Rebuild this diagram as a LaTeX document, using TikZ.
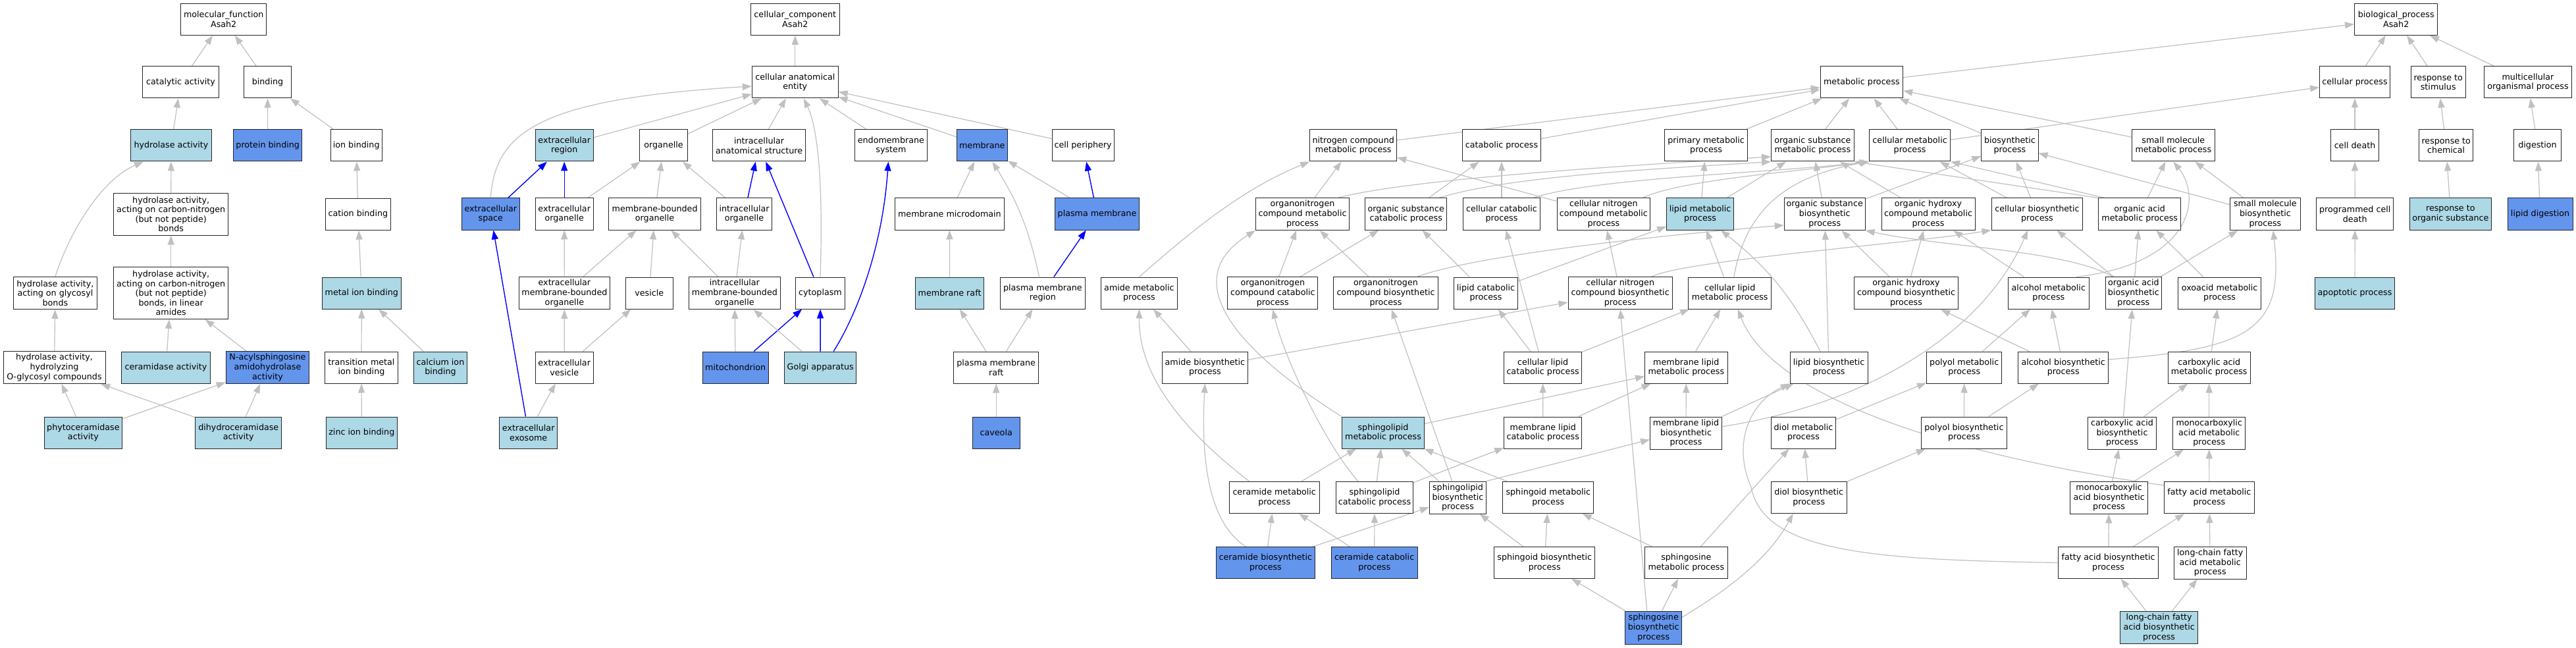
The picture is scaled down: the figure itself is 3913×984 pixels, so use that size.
\documentclass[tikz,border=0pt]{standalone}
\usepackage{fontspec}
\usetikzlibrary{arrows.meta,backgrounds}
\newfontfamily\gvfont{DejaVu Sans}
\definecolor{lbc}{RGB}{173,216,230}
\definecolor{cfc}{RGB}{100,149,237}
\definecolor{egc}{RGB}{192,192,192}
\begin{document}
\begin{tikzpicture}[x=1pt,y=-1pt,
 gnode/.style={draw=black!85,line width=1pt,fill=white,inner sep=0pt,align=center,font={\gvfont\fontsize{12.7pt}{14.6pt}\selectfont},minimum height=48pt},
 lbf/.style={gnode,fill=lbc},
 cff/.style={gnode,fill=cfc},
 ge/.style={draw=egc,line width=1.2pt,-{Triangle[length=14pt,width=10pt]}},
 be/.style={draw=blue,line width=1.4pt,-{Triangle[length=14pt,width=10pt]}}]
\useasboundingbox (0,0) rectangle (3913,984);
% ---------------- molecular function
\node[gnode,minimum width=130.5pt] (mf) at (339.7,29.3) {molecular\_function\\Asah2};
\node[gnode,minimum width=115.3pt] (cat) at (274.5,125) {catalytic activity};
\node[gnode,minimum width=72.6pt] (bind) at (406.5,125) {binding};
\node[lbf,minimum width=122.7pt] (hyd) at (260,221) {hydrolase activity};
\node[cff,minimum width=104.4pt] (prot) at (406.7,221) {protein binding};
\node[gnode,minimum width=78.3pt] (ion) at (541.2,221) {ion binding};
\node[gnode,minimum width=173.7pt,minimum height=64pt] (hcn) at (259.7,325.2) {hydrolase activity,\\acting on carbon-nitrogen\\(but not peptide)\\bonds};
\node[gnode,minimum width=98.7pt] (cation) at (543.9,325.2) {cation binding};
\node[gnode,minimum width=126.5pt,minimum height=49pt] (hgly) at (83.9,445) {hydrolase activity,\\acting on glycosyl\\bonds};
\node[gnode,minimum width=173.7pt,minimum height=79pt] (hlin) at (259.7,444.9) {hydrolase activity,\\acting on carbon-nitrogen\\(but not peptide)\\bonds, in linear\\amides};
\node[lbf,minimum width=120.2pt] (metal) at (549.3,445) {metal ion binding};
\node[gnode,minimum width=155pt,minimum height=49pt] (hoglyc) at (82.5,558) {hydrolase activity,\\hydrolyzing\\O-glycosyl compounds};
\node[lbf,minimum width=134.3pt] (ceramidase) at (252,558) {ceramidase activity};
\node[cff,minimum width=126.4pt,minimum height=49pt] (nacyl) at (406.5,558) {N-acylsphingosine\\amidohydrolase\\activity};
\node[gnode,minimum width=110.3pt] (trans) at (549,558) {transition metal\\ion binding};
\node[lbf,minimum width=80.5pt] (calcium) at (669,558) {calcium ion\\binding};
\node[lbf,minimum width=117.7pt] (phyto) at (126.4,657) {phytoceramidase\\activity};
\node[lbf,minimum width=131pt] (dihydro) at (362.3,657) {dihydroceramidase\\activity};
\node[lbf,minimum width=107.8pt] (zinc) at (549.3,657) {zinc ion binding};
% ---------------- cellular component
\node[gnode,minimum width=134.4pt] (cc) at (1207.8,29.3) {cellular\_component\\Asah2};
\node[gnode,minimum width=130.8pt] (cae) at (1207.8,125) {cellular anatomical\\entity};
\node[lbf,minimum width=88.4pt] (exreg) at (857.2,221) {extracellular\\region};
\node[gnode,minimum width=72.3pt] (organelle) at (1008,221) {organelle};
\node[gnode,minimum width=141pt] (ias) at (1153.1,221) {intracellular\\anatomical structure};
\node[gnode,minimum width=109.3pt] (endo) at (1353.4,221) {endomembrane\\system};
\node[cff,minimum width=77.3pt] (membrane) at (1491.8,221) {membrane};
\node[gnode,minimum width=93.8pt] (cellper) at (1645.1,221) {cell periphery};
\node[cff,minimum width=88pt] (exspace) at (745.3,325) {extracellular\\space};
\node[gnode,minimum width=88.4pt] (exorg) at (857.2,325) {extracellular\\organelle};
\node[gnode,minimum width=139.3pt] (mbo) at (994.6,325) {membrane-bounded\\organelle};
\node[gnode,minimum width=83.5pt] (iorg) at (1130.6,325) {intracellular\\organelle};
\node[gnode,minimum width=166pt] (mmd) at (1442.4,325) {membrane microdomain};
\node[cff,minimum width=128.6pt] (pm) at (1666.5,325) {plasma membrane};
\node[gnode,minimum width=138.8pt,minimum height=49pt] (exmbo) at (857.4,445) {extracellular\\membrane-bounded\\organelle};
\node[gnode,minimum width=71.9pt] (vesicle) at (986.3,445) {vesicle};
\node[gnode,minimum width=138.8pt,minimum height=49pt] (imbo) at (1115.9,445) {intracellular\\membrane-bounded\\organelle};
\node[gnode,minimum width=75pt] (cyto) at (1246,445) {cytoplasm};
\node[lbf,minimum width=104pt] (mraft) at (1442.6,445) {membrane raft};
\node[gnode,minimum width=128.6pt] (pmr) at (1583.9,445) {plasma membrane\\region};
\node[gnode,minimum width=88.4pt] (exves) at (857.2,558) {extracellular\\vesicle};
\node[cff,minimum width=99.6pt] (mito) at (1117.2,558) {mitochondrion};
\node[lbf,minimum width=109.4pt] (golgi) at (1246.2,558) {Golgi apparatus};
\node[gnode,minimum width=129pt] (pmraft) at (1513.2,558) {plasma membrane\\raft};
\node[lbf,minimum width=88.4pt] (exo) at (802.7,657) {extracellular\\exosome};
\node[cff,minimum width=71.9pt] (caveola) at (1513.2,657) {caveola};
% ---------------- biological process
\node[gnode,minimum width=126.5pt] (bp) at (3639.7,29.3) {biological\_process\\Asah2};
\node[gnode,minimum width=125.4pt] (metab) at (2827.9,125) {metabolic process};
\node[gnode,minimum width=107pt] (cellproc) at (3577,125) {cellular process};
\node[gnode,minimum width=82.8pt] (respstim) at (3703.7,125) {response to\\stimulus};
\node[gnode,minimum width=133.6pt] (multi) at (3839.9,125) {multicellular\\organismal process};
\node[gnode,minimum width=131.8pt] (ncm) at (2055.7,221) {nitrogen compound\\metabolic process};
\node[gnode,minimum width=118.1pt] (catab) at (2281,221) {catabolic process};
\node[gnode,minimum width=126.6pt] (primary) at (2591.6,221) {primary metabolic\\process};
\node[gnode,minimum width=125.4pt] (osm) at (2753.3,221) {organic substance\\metabolic process};
\node[gnode,minimum width=122.8pt] (cellmet) at (2901.1,221) {cellular metabolic\\process};
\node[gnode,minimum width=86.2pt] (biosyn) at (3052.9,221) {biosynthetic\\process};
\node[gnode,minimum width=125.8pt] (smm) at (3301.3,221) {small molecule\\metabolic process};
\node[gnode,minimum width=72.3pt] (celldeath) at (3577,221) {cell death};
\node[gnode,minimum width=82.5pt] (respchem) at (3715.7,221) {response to\\chemical};
\node[gnode,minimum width=72.3pt] (digestion) at (3854.5,221) {digestion};
\node[gnode,minimum width=142pt,minimum height=49pt] (onm) at (1978.5,325) {organonitrogen\\compound metabolic\\process};
\node[gnode,minimum width=123.5pt] (osc) at (2135.7,325) {organic substance\\catabolic process};
\node[gnode,minimum width=117.3pt] (cellcat) at (2281,325) {cellular catabolic\\process};
\node[gnode,minimum width=141.8pt,minimum height=49pt] (cncm) at (2435.9,325) {cellular nitrogen\\compound metabolic\\process};
\node[lbf,minimum width=101.8pt] (lipidmet) at (2582.6,325) {lipid metabolic\\process};
\node[gnode,minimum width=122.8pt,minimum height=49pt] (osb) at (2771.7,325) {organic substance\\biosynthetic\\process};
\node[gnode,minimum width=142pt,minimum height=49pt] (ohcm) at (2929,325) {organic hydroxy\\compound metabolic\\process};
\node[gnode,minimum width=138.8pt] (cellbio) at (3094.4,325) {cellular biosynthetic\\process};
\node[gnode,minimum width=125.5pt] (oam) at (3250.2,325) {organic acid\\metabolic process};
\node[gnode,minimum width=107pt,minimum height=49pt] (smb) at (3440.9,325) {small molecule\\biosynthetic\\process};
\node[gnode,minimum width=117.5pt] (pcd) at (3577.2,325) {programmed cell\\death};
\node[lbf,minimum width=123.4pt] (respos) at (3722.3,325) {response to\\organic substance};
\node[cff,minimum width=99pt] (lipdig) at (3858.5,325) {lipid digestion};
\node[gnode,minimum width=115.2pt] (amidem) at (1730.4,445) {amide metabolic\\process};
\node[gnode,minimum width=137pt,minimum height=49pt] (onc) at (1933.3,445) {organonitrogen\\compound catabolic\\process};
\node[gnode,minimum width=158.3pt,minimum height=49pt] (onb) at (2105,445) {organonitrogen\\compound biosynthetic\\process};
\node[gnode,minimum width=97.4pt] (lipcat) at (2257,445) {lipid catabolic\\process};
\node[gnode,minimum width=158.4pt,minimum height=49pt] (cncb) at (2461.2,445) {cellular nitrogen\\compound biosynthetic\\process};
\node[gnode,minimum width=125.8pt] (clm) at (2627.7,445) {cellular lipid\\metabolic process};
\node[gnode,minimum width=158pt,minimum height=49pt] (ohcb) at (2895.5,445) {organic hydroxy\\compound biosynthetic\\process};
\node[gnode,minimum width=122.8pt] (alcm) at (3111.8,445) {alcohol metabolic\\process};
\node[gnode,minimum width=85.3pt,minimum height=49pt] (oab) at (3240.8,445) {organic acid\\biosynthetic\\process};
\node[gnode,minimum width=126.4pt] (oxo) at (3371.6,445) {oxoacid metabolic\\process};
\node[lbf,minimum width=120.5pt] (apop) at (3577,445) {apoptotic process};
\node[gnode,minimum width=130.3pt] (amideb) at (1830.4,558) {amide biosynthetic\\process};
\node[gnode,minimum width=118pt] (clc) at (2343.6,558) {cellular lipid\\catabolic process};
\node[gnode,minimum width=125.5pt] (mlm) at (2561.3,558) {membrane lipid\\metabolic process};
\node[gnode,minimum width=117.8pt] (lipbio) at (2778.1,558) {lipid biosynthetic\\process};
\node[gnode,minimum width=114.3pt] (polyolm) at (2983.7,558) {polyol metabolic\\process};
\node[gnode,minimum width=136.8pt] (alcb) at (3134.2,558) {alcohol biosynthetic\\process};
\node[gnode,minimum width=125.2pt] (cam) at (3355.7,558) {carboxylic acid\\metabolic process};
\node[lbf,minimum width=125.5pt] (slm) at (2101,657) {sphingolipid\\metabolic process};
\node[gnode,minimum width=118.3pt] (mlc) at (2343.8,657) {membrane lipid\\catabolic process};
\node[gnode,minimum width=108.7pt,minimum height=49pt] (mlb) at (2561,657.5) {membrane lipid\\biosynthetic\\process};
\node[gnode,minimum width=98.5pt] (diolm) at (2739.5,657) {diol metabolic\\process};
\node[gnode,minimum width=130.1pt] (polyolb) at (2983.4,657) {polyol biosynthetic\\process};
\node[gnode,minimum width=104.1pt,minimum height=49pt] (cab) at (3223.5,657.5) {carboxylic acid\\biosynthetic\\process};
\node[gnode,minimum width=110pt,minimum height=49pt] (mcam) at (3355.7,657.5) {monocarboxylic\\acid metabolic\\process};
\node[gnode,minimum width=136.7pt] (cerm) at (1935.7,755.5) {ceramide metabolic\\process};
\node[gnode,minimum width=117.9pt] (slc) at (2088,755.5) {sphingolipid\\catabolic process};
\node[gnode,minimum width=86.2pt,minimum height=49pt] (slb) at (2214.5,755.5) {sphingolipid\\biosynthetic\\process};
\node[gnode,minimum width=138.3pt] (sdm) at (2351.8,755.5) {sphingoid metabolic\\process};
\node[gnode,minimum width=114.8pt] (diolb) at (2747.7,755.5) {diol biosynthetic\\process};
\node[gnode,minimum width=117.3pt,minimum height=49pt] (mcab) at (3203.6,755.5) {monocarboxylic\\acid biosynthetic\\process};
\node[gnode,minimum width=136.6pt] (fam) at (3355.9,755.5) {fatty acid metabolic\\process};
\node[cff,minimum width=150pt] (cerb) at (1922.4,854.5) {ceramide biosynthetic\\process};
\node[cff,minimum width=130.6pt] (cerc) at (2087.7,854.5) {ceramide catabolic\\process};
\node[gnode,minimum width=152.5pt] (sdb) at (2346.2,854.5) {sphingoid biosynthetic\\process};
\node[gnode,minimum width=125.5pt] (sphm) at (2561.3,854.5) {sphingosine\\metabolic process};
\node[gnode,minimum width=152pt] (fab) at (3202.6,854.5) {fatty acid biosynthetic\\process};
\node[gnode,minimum width=109.6pt,minimum height=49pt] (lcfam) at (3357.2,854.5) {long-chain fatty\\acid metabolic\\process};
\node[cff,minimum width=85.7pt,minimum height=50pt] (sphb) at (2511.7,953) {sphingosine\\biosynthetic\\process};
\node[lbf,minimum width=117.5pt,minimum height=49pt] (lcfab) at (3279.6,953) {long-chain fatty\\acid biosynthetic\\process};
% ---------------- edges
\begin{scope}[on background layer]
\fill[white] (0,0) rectangle (3913,984);
% MF
\draw[ge] (cat) -- (mf);
\draw[ge] (bind) -- (mf);
\draw[ge] (hyd) -- (cat);
\draw[ge] (prot) -- (bind);
\draw[ge] (ion) -- (bind);
\draw[ge] (hcn) -- (hyd);
\draw[ge] (hgly.north) .. controls (110,340) and (160,270) .. ([xshift=-42pt]hyd.south);
\draw[ge] (hlin) -- (hcn);
\draw[ge] (cation) -- (ion);
\draw[ge] (metal) -- (cation);
\draw[ge] (hoglyc) -- (hgly);
\draw[ge] (ceramidase) -- (hlin);
\draw[ge] (nacyl) -- (hlin);
\draw[ge] (trans) -- (metal);
\draw[ge] (calcium) -- (metal);
\draw[ge] (phyto) -- (hoglyc);
\draw[ge] (phyto) -- (nacyl);
\draw[ge] (dihydro) -- (hoglyc);
\draw[ge] (dihydro) -- (nacyl);
\draw[ge] (zinc) -- (trans);
% CC
\draw[ge] (cae) -- (cc);
\draw[ge] (exspace.north) .. controls (752,200) and (820,150) .. ([yshift=-6pt]cae.west);
\draw[ge] (exreg) -- (cae);
\draw[ge] (organelle) -- (cae);
\draw[ge] (ias) -- (cae);
\draw[ge] (cyto.north) .. controls (1250,300) and (1245,200) .. ([xshift=13pt]cae.south);
\draw[ge] (endo) -- (cae);
\draw[ge] (membrane) -- (cae);
\draw[ge] (cellper) -- (cae);
\draw[be] (exspace) -- (exreg);
\draw[be] (exorg) -- (exreg);
\draw[ge] (exorg) -- (organelle);
\draw[ge] (mbo) -- (organelle);
\draw[ge] (iorg) -- (organelle);
\draw[be] (iorg) -- (ias);
\draw[be] (cyto) -- (ias);
\draw[ge] (exmbo) -- (exorg);
\draw[ge] (exmbo) -- (mbo);
\draw[ge] (vesicle) -- (mbo);
\draw[ge] (imbo) -- (mbo);
\draw[ge] (imbo) -- (iorg);
\draw[ge] (exves) -- (exmbo);
\draw[ge] (exves) -- (vesicle);
\draw[ge] (mito) -- (imbo);
\draw[be] (mito) -- (cyto);
\draw[ge] (golgi) -- (imbo);
\draw[be] (golgi) -- (cyto);
\draw[be] ([xshift=20pt]golgi.north) .. controls (1300,480) and (1340,380) .. ([xshift=-4pt]endo.south);
\draw[be] (exo) -- (exspace);
\draw[ge] (exo) -- (exves);
\draw[ge] (mmd) -- (membrane);
\draw[ge] (pm) -- (membrane);
\draw[be] (pm) -- (cellper);
\draw[ge] (pmr) to[bend right=10] (membrane);
\draw[be] (pmr) -- (pm);
\draw[ge] (mraft) -- (mmd);
\draw[ge] (pmraft) -- (mraft);
\draw[ge] (pmraft) -- (pmr);
\draw[ge] (caveola) -- (pmraft);
% BP top
\draw[ge] (metab) -- (bp);
\draw[ge] (cellproc) -- (bp);
\draw[ge] (respstim) -- (bp);
\draw[ge] (multi) -- (bp);
\draw[ge] (ncm) -- (metab);
\draw[ge] (catab) -- (metab);
\draw[ge] (primary) -- (metab);
\draw[ge] (osm) -- (metab);
\draw[ge] (cellmet) -- (metab);
\draw[ge] (biosyn) -- (metab);
\draw[ge] (smm) -- (metab);
\draw[ge] (cellmet) -- (cellproc);
\draw[ge] (celldeath) -- (cellproc);
\draw[ge] (respchem) -- (respstim);
\draw[ge] (digestion) -- (multi);
\draw[ge] (pcd) -- (celldeath);
\draw[ge] (respos) -- (respchem);
\draw[ge] (lipdig) -- (digestion);
\draw[ge] (apop) -- (pcd);
% rank 3
\draw[ge] (onm) -- (ncm);
\draw[ge] ([xshift=55pt]onm.north) .. controls (2150,270) and (2500,250) .. (osm.195);
\draw[ge] (amidem.north) .. controls (1800,360) and (1880,290) .. (ncm.south west);
\draw[ge] (cncm) -- (ncm);
\draw[ge] (osc) -- (catab);
\draw[ge] ([xshift=50pt]osc.north) .. controls (2300,265) and (2550,255) .. (osm.south west);
\draw[ge] (cellcat) -- (catab);
\draw[ge] ([xshift=48pt]cellcat.north) .. controls (2420,270) and (2700,262) .. (cellmet.south west);
\draw[ge] ([xshift=60pt]cncm.north) .. controls (2560,272) and (2720,262) .. (cellmet.south west);
\draw[ge] (lipidmet) -- (primary);
\draw[ge] (lipidmet) -- (osm);
\draw[ge] (osb) -- (osm);
\draw[ge] (osb) -- (biosyn);
\draw[ge] (ohcm) -- (osm);
\draw[ge] (cellbio) -- (cellmet);
\draw[ge] (cellbio) -- (biosyn);
\draw[ge] (oam) -- (smm);
\draw[ge] (oam.north west) -- (osm.south east);
\draw[ge] ([xshift=10pt]oam.north west) -- (cellmet.south east);
\draw[ge] (smb) -- (smm);
\draw[ge] (smb) -- (biosyn);
% rank 4
\draw[ge] (onc) -- (onm);
\draw[ge] (onc) -- (osc);
\draw[ge] (onb) -- (onm);
\draw[ge] ([xshift=48pt]onb.north) .. controls (2250,385) and (2550,355) .. ([yshift=-17pt]osb.west);
\draw[ge] (lipcat) -- (osc);
\draw[ge] (lipcat) -- (lipidmet);
\draw[ge] (cncb) -- (cncm);
\draw[ge] ([xshift=48pt]cncb.north) .. controls (2560,395) and (2900,370) .. (cellbio.south west);
\draw[ge] (clm) -- (lipidmet);
\draw[ge] ([xshift=6pt]clm.north) .. controls (2650,330) and (2700,270) .. (cellmet.south west);
\draw[ge] (ohcb) -- (osb);
\draw[ge] (ohcb) -- (ohcm);
\draw[ge] (alcm) -- (ohcm);
\draw[ge] ([xshift=42pt]alcm.north) .. controls (3330,400) and (3345,300) .. (smm.south);
\draw[ge] (oab) -- (oam);
\draw[ge] (oab) -- (smb);
\draw[ge] ([xshift=-32pt]oab.north) .. controls (3140,380) and (2950,375) .. (osb.south east);
\draw[ge] (oab) -- (cellbio);
\draw[ge] (oxo) -- (oam);
% rank 5
\draw[ge] (amideb) -- (amidem);
\draw[ge] (amideb) -- (cncb);
\draw[ge] (clc) -- (lipcat);
\draw[ge] (clc) -- (cellcat);
\draw[ge] (clc) -- (clm);
\draw[ge] (mlm) -- (clm);
\draw[ge] (lipbio) -- (osb);
\draw[ge] (lipbio) to[bend right=12] (lipidmet);
\draw[ge] (polyolm) -- (alcm);
\draw[ge] (alcb) -- (alcm);
\draw[ge] (alcb) -- (ohcb);
\draw[ge] (alcb.10) .. controls (3420,530) and (3470,500) .. ([xshift=12pt]smb.south);
\draw[ge] (cam) -- (oxo);
% rank 6
\draw[ge] (slm.north west) .. controls (1830,500) and (1810,410) .. (onm.south west);
\draw[ge] (slm) -- (mlm);
\draw[ge] (mlc) -- (clc);
\draw[ge] (mlc) -- (mlm);
\draw[ge] (mlb) -- (mlm);
\draw[ge] (mlb) -- (lipbio);
\draw[ge] (mlb.10) .. controls (2860,610) and (3020,490) .. (cellbio.240);
\draw[ge] (diolm) -- (polyolm);
\draw[ge] (polyolb) -- (polyolm);
\draw[ge] (polyolb) -- (alcb);
\draw[ge] (cab) -- (cam);
\draw[ge] (cab) -- (oab);
\draw[ge] (mcam) -- (cam);
% rank 7
\draw[ge] ([xshift=-38pt]cerm.north) .. controls (1780,640) and (1730,560) .. (amidem.south);
\draw[ge] (cerm) -- (slm);
\draw[ge] (slc) -- (slm);
\draw[ge] (slc) -- (mlc);
\draw[ge] ([xshift=-25pt]slc.north) .. controls (2010,670) and (1950,540) .. (onc.south);
\draw[ge] (slb) -- (slm);
\draw[ge] (slb.north east) -- ([yshift=-10pt]mlb.west);
\draw[ge] (slb) -- (onb);
\draw[ge] (sdm) -- (slm);
\draw[ge] (diolb) -- (diolm);
\draw[ge] (diolb) -- (polyolb);
\draw[ge] (mcab) -- (cab);
\draw[ge] (mcab) -- (mcam);
\draw[ge] (fam) -- (mcam);
\draw[ge] (fam.165) .. controls (2950,690) and (2690,600) .. ([xshift=12pt]clm.south);
% rank 8
\draw[ge] (cerb) -- (cerm);
\draw[ge] ([xshift=-30pt]cerb.north) .. controls (1830,790) and (1825,680) .. (amideb.south);
\draw[ge] (cerb) -- (slb);
\draw[ge] (cerc) -- (cerm);
\draw[ge] (cerc) -- (slc);
\draw[ge] (sdb) -- (slb);
\draw[ge] (sdb) -- (sdm);
\draw[ge] (sphm) -- (sdm);
\draw[ge] (sphm) -- (diolm);
\draw[ge] (fab) -- (mcab);
\draw[ge] (fab) -- (fam);
\draw[ge] (fab.west) .. controls (2850,850) and (2680,840) .. (2660,740) .. controls (2630,670) and (2660,610) .. (lipbio.south west);
\draw[ge] (lcfam) -- (fam);
% rank 9
\draw[ge] (sphb) -- (sdb);
\draw[ge] (sphb) -- (sphm);
\draw[ge] (sphb.20) .. controls (2600,910) and (2680,860) .. ([xshift=-24pt]diolb.south);
\draw[ge] ([xshift=-10pt]sphb.north) -- (cncb.south);
\draw[ge] (lcfab) -- (fab);
\draw[ge] (lcfab) -- (lcfam);
\end{scope}
\end{tikzpicture}
\end{document}
